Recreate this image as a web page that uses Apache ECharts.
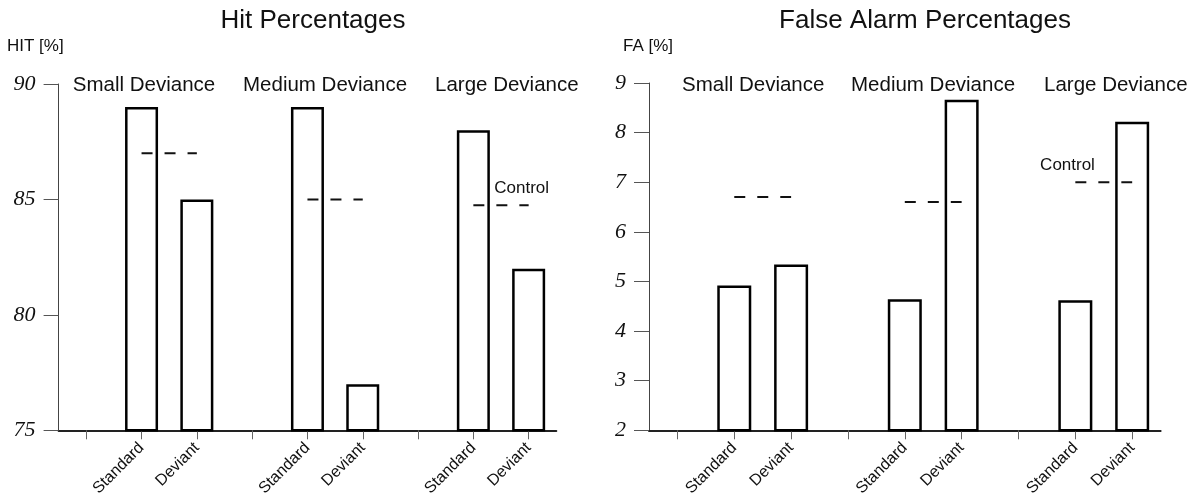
<!DOCTYPE html>
<html>
<head>
<meta charset="utf-8">
<script src="https://cdn.jsdelivr.net/npm/echarts@6/dist/echarts.min.js"></script>
<style>
html,body{margin:0;padding:0;background:#fff;}
#chart{width:1198px;height:499px;}
</style>
</head>
<body>
<div id="chart"></div>
<script>
// ---- data ----
const categories = ['', 'Standard', 'Deviant', '', 'Standard', 'Deviant', '', 'Standard', 'Deviant'];
const groupLabels = ['Small Deviance', 'Medium Deviance', 'Large Deviance'];
const hitValues = ['-', 89, 85, '-', 89, 77, '-', 88, 82];
const hitControl = ['-', 87, 87, '-', 85, 85, '-', 84.75, 84.75];
const faValues = ['-', 4.92, 5.34, '-', 4.64, 8.66, '-', 4.62, 8.22];
const faControl = ['-', 6.7, 6.7, '-', 6.6, 6.6, '-', 7.0, 7.0];
const hitAxis = { min: 75, max: 90, interval: 5 };
const faAxis = { min: 2, max: 9, interval: 1 };
const titles = ['Hit Percentages', 'False Alarm Percentages'];
const axisNames = ['HIT [%]', 'FA [%]'];
const controlLabel = 'Control';

// ---- chart ----
const chart = echarts.init(document.getElementById('chart'), null, { renderer: 'canvas' });
const SANS = '"Liberation Sans", Arial, sans-serif';
const SERIF = '"Liberation Serif", "Times New Roman", serif';

function xAxisCfg(gi) {
  return {
    type: 'category', gridIndex: gi, data: categories,
    axisLine: { show: true, lineStyle: { color: '#222', width: 2 } },
    axisTick: { show: true, alignWithLabel: true, length: 9, lineStyle: { color: '#666', width: 1 } },
    axisLabel: { interval: 0, rotate: 45, margin: 15, fontSize: 16, color: '#111', fontFamily: SANS },
    splitLine: { show: false }
  };
}
function yAxisCfg(gi, ax) {
  return {
    type: 'value', gridIndex: gi, min: ax.min, max: ax.max, interval: ax.interval,
    axisLine: { show: true, lineStyle: { color: '#444', width: 1 } },
    axisTick: { show: true, inside: false, length: 15, lineStyle: { color: '#555', width: 1 } },
    axisLabel: { margin: 23, fontSize: 22, fontStyle: 'italic', color: '#111', fontFamily: SERIF },
    splitLine: { show: false }
  };
}
function barSeries(idx, vals, bw) {
  return {
    type: 'bar', xAxisIndex: idx, yAxisIndex: idx, data: vals, barWidth: bw,
    itemStyle: { color: '#fff', borderColor: '#000', borderWidth: 2.5 },
    silent: true, animation: false
  };
}
function controlSeries(idx, vals) {
  return {
    type: 'line', xAxisIndex: idx, yAxisIndex: idx, data: vals, symbol: 'none',
    connectNulls: false,
    lineStyle: { color: '#111', width: 2, type: [11, 12] },
    silent: true, animation: false, z: 5
  };
}
function txt(text, x, y, size, align, extra) {
  return Object.assign({
    type: 'text', x: x, y: y,
    style: { text: text, fill: '#111', font: size + 'px ' + SANS, textAlign: align || 'left', textVerticalAlign: 'middle' }
  }, extra || {});
}

const option = {
  backgroundColor: '#fff',
  animation: false,
  grid: [
    { left: 58.6, top: 84, width: 497.7, height: 347, containLabel: false },
    { left: 649, top: 83, width: 511.6, height: 349, containLabel: false }
  ],
  xAxis: [xAxisCfg(0), xAxisCfg(1)],
  yAxis: [yAxisCfg(0, hitAxis), yAxisCfg(1, faAxis)],
  series: [
    barSeries(0, hitValues, 33),
    controlSeries(0, hitControl),
    barSeries(1, faValues, 34),
    controlSeries(1, faControl)
  ],
  graphic: [
    txt(titles[0], 313, 21, 26, 'center'),
    txt(titles[1], 925, 21, 26, 'center'),
    txt(axisNames[0], 7, 46, 17, 'left'),
    txt(axisNames[1], 623, 46, 17, 'left'),
    txt(groupLabels[0], 72.8, 85, 20.5, 'left'),
    txt(groupLabels[1], 243, 85, 20.5, 'left'),
    txt(groupLabels[2], 435, 85, 20.5, 'left'),
    txt(groupLabels[0], 682, 85, 20.5, 'left'),
    txt(groupLabels[1], 851, 85, 20.5, 'left'),
    txt(groupLabels[2], 1044, 85, 20.5, 'left'),
    txt(controlLabel, 521.7, 188, 17, 'center'),
    txt(controlLabel, 1067.5, 165, 17, 'center')
  ]
};
chart.setOption(option);
</script>
</body>
</html>
